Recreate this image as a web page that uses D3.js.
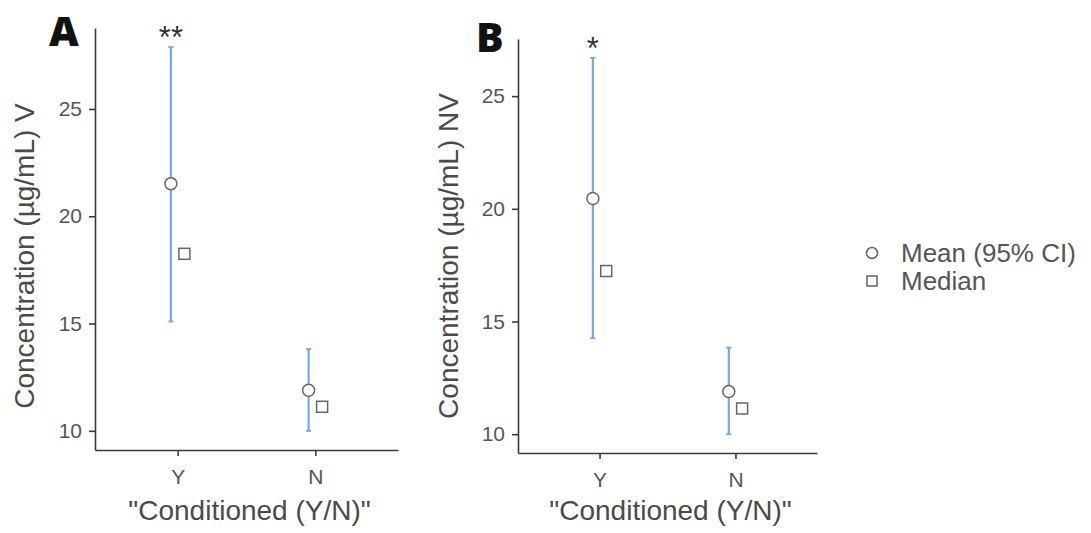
<!DOCTYPE html>
<html>
<head>
<meta charset="utf-8">
<script src="https://cdn.jsdelivr.net/npm/d3@7"></script>
<style>
  html, body { margin: 0; padding: 0; background: #fff; }
  svg text { font-family: "Liberation Sans", Arial, sans-serif; }
</style>
</head>
<body>
<svg id="chart" width="1091" height="533"></svg>
<script>
// Groups on the x axis
const groups = ["Y", "N"];

// Panel A: concentration V
const meanV   = [21.52, 11.89];
const lowerV  = [15.10, 10.00];
const upperV  = [27.88, 13.81];
const medianV = [18.25, 11.12];

// Panel B: concentration NV
const meanNV   = [20.46, 11.89];
const lowerNV  = [14.26, 10.00];
const upperNV  = [26.70, 13.84];
const medianNV = [17.24, 11.14];

// Significance marks above the Y group
const starsV  = "**";
const starsNV = "*";

const yTicks = [10, 15, 20, 25];
const legendLabels = ["Mean (95% CI)", "Median"];

const svg = d3.select("#chart");
const ciColor = "#78a6ea";
const axisColor = "#3a3a3a";

function panel(opt) {
  const { x0, x1, y0, y1, mean, lower, upper, median, stars, letter, yTitle, titleX } = opt;
  const g = svg.append("g");

  // y domain: data extent padded by 5%
  const lo = d3.min(lower), hi = d3.max(upper);
  const pad = (hi - lo) * 0.05;
  const y = d3.scaleLinear().domain([lo - pad, hi + pad]).range([y1, y0]);

  // discrete x positions 1..n with 0.6 unit padding on each side
  const x = d3.scaleLinear().domain([0.4, groups.length + 0.6]).range([x0, x1]);
  const dodge = 0.049;

  // axes
  const yAxis = d3.axisLeft(y).tickValues(yTicks).tickSize(6).tickPadding(7).tickSizeOuter(0);
  const gy = g.append("g").attr("transform", `translate(${x0},0)`).call(yAxis);
  const xAxis = d3.axisBottom(x).tickValues(groups.map((d, i) => i + 1))
    .tickFormat((d) => groups[d - 1]).tickSize(6).tickPadding(13).tickSizeOuter(0);
  const gx = g.append("g").attr("transform", `translate(0,${y1})`).call(xAxis);
  [gy, gx].forEach((a) => {
    a.select(".domain").attr("stroke", axisColor).attr("stroke-width", 1.6);
    a.selectAll(".tick line").attr("stroke", axisColor).attr("stroke-width", 1.6);
    a.selectAll(".tick text").attr("fill", "#555").style("font-size", "21px")
      .style("font-family", "'Liberation Sans', Arial, sans-serif");
  });

  // confidence interval bars with small caps
  const idx = groups.map((d, i) => i);
  g.selectAll(".ci").data(idx).join("line")
    .attr("x1", (i) => x(i + 1 - dodge)).attr("x2", (i) => x(i + 1 - dodge))
    .attr("y1", (i) => y(lower[i])).attr("y2", (i) => y(upper[i]))
    .attr("stroke", ciColor).attr("stroke-width", 2.2);
  ["lo", "hi"].forEach((k) => {
    g.selectAll(".cap" + k).data(idx).join("line")
      .attr("x1", (i) => x(i + 1 - dodge) - 2.5).attr("x2", (i) => x(i + 1 - dodge) + 2.5)
      .attr("y1", (i) => y(k === "lo" ? lower[i] : upper[i]))
      .attr("y2", (i) => y(k === "lo" ? lower[i] : upper[i]))
      .attr("stroke", ciColor).attr("stroke-width", 2);
  });

  // means
  g.selectAll(".mean").data(idx).join("circle")
    .attr("cx", (i) => x(i + 1 - dodge)).attr("cy", (i) => y(mean[i])).attr("r", 6)
    .attr("fill", "#fff").attr("stroke", "#666").attr("stroke-width", 1.5);

  // medians
  g.selectAll(".median").data(idx).join("rect")
    .attr("x", (i) => x(i + 1 + dodge) - 5.5).attr("y", (i) => y(median[i]) - 5.5)
    .attr("width", 11).attr("height", 11)
    .attr("fill", "#fff").attr("stroke", "#666").attr("stroke-width", 1.5);

  // significance stars
  g.append("text").attr("x", x(1 - dodge)).attr("y", y(upper[0]) + 1)
    .attr("text-anchor", "middle").attr("fill", "#333")
    .style("font-size", "31px").text(stars);

  // panel letter
  g.append("text").attr("x", opt.letterX).attr("y", opt.letterY)
    .attr("fill", "#111").style("font-family", "'Open Sans', 'DejaVu Sans', sans-serif")
    .style("font-weight", 800).style("font-size", "41px").text(letter);

  // axis titles
  g.append("text")
    .attr("transform", `translate(${titleX},${opt.titleY}) rotate(-90)`)
    .attr("text-anchor", "middle").attr("fill", "#4a4a4a").style("font-size", "28px")
    .text(yTitle);
  g.append("text").attr("x", (x0 + x1) / 2 + 3).attr("y", 520)
    .attr("text-anchor", "middle").attr("fill", "#4a4a4a").style("font-size", "28px")
    .text('"Conditioned (Y/N)"');
}

panel({ x0: 95, x1: 398, y0: 28, y1: 450, mean: meanV, lower: lowerV, upper: upperV,
  median: medianV, stars: starsV, letter: "A", letterX: 49, letterY: 46,
  yTitle: "Concentration (µg/mL) V", titleX: 34, titleY: 256 });
panel({ x0: 518, x1: 817, y0: 39, y1: 453, mean: meanNV, lower: lowerNV, upper: upperNV,
  median: medianNV, stars: starsNV, letter: "B", letterX: 476, letterY: 52,
  yTitle: "Concentration (µg/mL) NV", titleX: 458, titleY: 256 });

// legend
const leg = svg.append("g").attr("transform", "translate(872,253)");
leg.append("circle").attr("cx", 0).attr("cy", 0).attr("r", 5.5)
  .attr("fill", "#fff").attr("stroke", "#666").attr("stroke-width", 1.5);
leg.append("rect").attr("x", -5).attr("y", 23).attr("width", 10).attr("height", 10)
  .attr("fill", "#fff").attr("stroke", "#666").attr("stroke-width", 1.5);
leg.selectAll(".lt").data(legendLabels).join("text")
  .attr("x", 29).attr("y", (d, i) => 9 + i * 28)
  .attr("fill", "#555").style("font-size", "26px").text((d) => d);
</script>
</body>
</html>
